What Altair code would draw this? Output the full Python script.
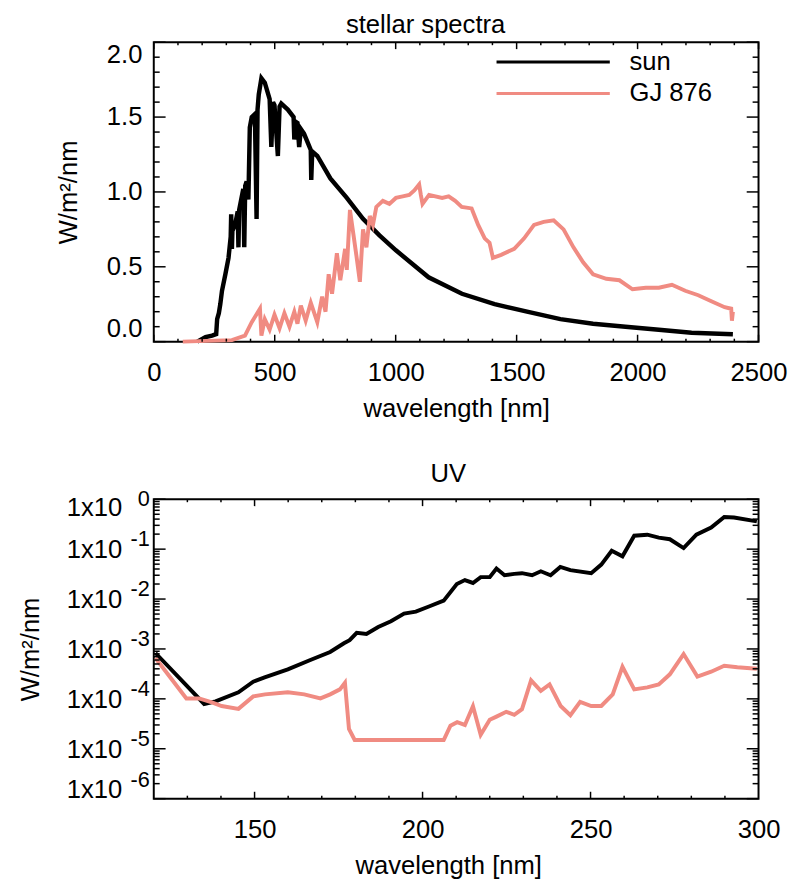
import altair as alt
import pandas as pd

FONT = "Liberation Sans"
BLACK = "#000000"
SALMON = "#F08B82"
W, H = 614, 304

# ---------------- top panel data (wavelength nm, W/m^2/nm) ----------------
sun_wl = [180, 214, 241, 258, 262, 269, 275, 282, 296, 309, 318, 320, 323, 325, 336,
          347, 350, 353, 370, 374, 378, 384, 391, 393, 397, 405, 418, 425, 429, 434,
          445, 459, 479, 486, 493, 499, 513, 520, 527, 554, 578, 581, 585, 594, 601,
          608, 621, 649, 651, 655, 676, 730, 798, 865, 933, 1001, 1136, 1274, 1409,
          1543, 1681, 1816, 1950, 2088, 2223, 2394]
sun_flux = [0.00, 0.03, 0.04, 0.05, 0.15, 0.19, 0.25, 0.34, 0.45, 0.56, 0.70, 0.85, 0.62,
            0.74, 0.78, 0.87, 0.63, 0.88, 1.02, 0.63, 1.04, 1.07, 0.95, 1.10, 1.43, 1.50,
            1.52, 0.82, 1.55, 1.65, 1.76, 1.73, 1.62, 1.30, 1.60, 1.58, 1.24, 1.57, 1.59,
            1.55, 1.50, 1.35, 1.47, 1.46, 1.30, 1.42, 1.39, 1.28, 1.08, 1.27, 1.24, 1.09,
            0.96, 0.82, 0.71, 0.61, 0.43, 0.32, 0.25, 0.20, 0.15, 0.12, 0.10, 0.08, 0.06,
            0.05]

gj_wl = [120, 323, 377, 405, 439, 445, 459, 479, 499, 520, 540, 561, 581, 594, 608, 628,
         649, 676, 696, 710, 723, 737, 757, 771, 791, 798, 811, 825, 838, 852, 865, 879,
         893, 906, 920, 947, 974, 1001, 1029, 1056, 1077, 1097, 1104, 1111, 1138, 1192,
         1219, 1246, 1273, 1314, 1341, 1368, 1388, 1402, 1436, 1490, 1531, 1572, 1612,
         1653, 1694, 1735, 1775, 1816, 1871, 1925, 1979, 2034, 2088, 2142, 2197, 2251,
         2305, 2360, 2387, 2390, 2394]
gj_flux = [0.00, 0.01, 0.04, 0.13, 0.22, 0.04, 0.15, 0.08, 0.18, 0.09, 0.19, 0.10, 0.20,
           0.12, 0.24, 0.14, 0.26, 0.13, 0.30, 0.20, 0.45, 0.32, 0.59, 0.41, 0.62, 0.48,
           0.88, 0.72, 0.57, 0.40, 0.75, 0.63, 0.84, 0.78, 0.90, 0.94, 0.92, 0.96, 0.97,
           0.98, 1.01, 1.05, 0.98, 0.92, 0.98, 0.96, 0.97, 0.94, 0.90, 0.89, 0.78, 0.69,
           0.66, 0.56, 0.58, 0.62, 0.69, 0.78, 0.80, 0.81, 0.75, 0.63, 0.53, 0.45, 0.42,
           0.41, 0.35, 0.36, 0.36, 0.38, 0.34, 0.31, 0.27, 0.23, 0.22, 0.14, 0.20]

# ---------------- bottom panel data (UV) ----------------
uv_sun_wl = [120.5, 135.0, 138.4, 145.2, 149.6, 153.0, 159.9, 166.6, 172.5, 176.6, 178.3,
             180.4, 183.3, 186.8, 190.6, 194.5, 198.0, 201.9, 206.3, 210.2, 212.6, 215.0,
             217.3, 220.0, 222.0, 224.4, 227.3, 229.6, 232.6, 235.2, 238.1, 241.0, 244.0,
             250.2, 253.2, 256.3, 259.5, 263.0, 266.9, 270.3, 273.6, 277.7, 281.5, 285.9,
             289.8, 292.7, 299.5]
uv_sun_flux = [8.3e-4, 7.9e-5, 8.9e-5, 1.35e-4, 2.2e-4, 2.7e-4, 3.9e-4, 6.0e-4, 8.7e-4,
               1.3e-3, 1.5e-3, 2.1e-3, 2.0e-3, 2.75e-3, 3.6e-3, 5.1e-3, 5.6e-3, 7.1e-3,
               9.3e-3, 2.0e-2, 2.4e-2, 2.1e-2, 2.75e-2, 2.75e-2, 4.1e-2, 3.0e-2, 3.2e-2,
               3.3e-2, 3.0e-2, 3.6e-2, 3.0e-2, 4.4e-2, 3.8e-2, 3.3e-2, 4.9e-2, 9.3e-2,
               7.2e-2, 0.186, 0.195, 0.17, 0.158, 0.105, 0.195, 0.27, 0.44, 0.43, 0.36]

uv_gj_wl = [120.5, 129.7, 133.5, 137.3, 140.2, 145.2, 149.6, 153.1, 159.9, 164.8, 169.6,
            172.5, 175.4, 176.9, 178.1, 179.8, 206.3, 208.3, 210.3, 212.6, 215.0, 217.3,
            220.0, 222.0, 224.9, 227.3, 229.6, 232.3, 235.2, 237.8, 241.1, 244.0, 246.9,
            250.2, 253.2, 256.6, 259.5, 263.0, 266.9, 270.3, 273.6, 277.7, 281.8, 285.9,
            289.8, 293.7, 299.5]
uv_gj_flux = [6.6e-4, 1.02e-4, 1.02e-4, 8.5e-5, 7.2e-5, 6.3e-5, 1.12e-4, 1.23e-4, 1.35e-4,
              1.23e-4, 1.02e-4, 1.23e-4, 1.55e-4, 2.1e-4, 2.5e-5, 1.5e-5, 1.5e-5, 2.9e-5,
              3.4e-5, 3.0e-5, 7.1e-5, 1.9e-5, 3.8e-5, 4.4e-5, 5.5e-5, 4.8e-5, 6.2e-5,
              2.35e-4, 1.45e-4, 1.95e-4, 7.2e-5, 4.7e-5, 8.7e-5, 7.2e-5, 7.2e-5, 1.23e-4,
              4.4e-4, 1.55e-4, 1.7e-4, 1.95e-4, 3.1e-4, 7.9e-4, 2.8e-4, 3.5e-4, 4.6e-4,
              4.3e-4, 4.0e-4]

series_names = ["sun", "GJ 876"]
panel_titles = ["stellar spectra", "UV"]

# tick positions / labels
top_x_labels = [0, 500, 1000, 1500, 2000, 2500]
top_x_minor = [v for v in range(0, 2501, 100) if v % 500]
top_y_labels = [0.0, 0.5, 1.0, 1.5, 2.0]
top_y_minor = [round(i * 0.1, 1) for i in range(21) if i % 5]
bot_x_labels = [150, 200, 250, 300]
bot_x_major = [150, 200, 250]
bot_x_minor = [v for v in range(130, 300, 10) if v % 50]
bot_exps = [0, -1, -2, -3, -4, -5, -6]
bot_y_major = [10.0 ** e for e in bot_exps]
bot_y_minor = [m * 10.0 ** e for e in range(-6, 0) for m in range(2, 10)]

xs_top = alt.Scale(domain=[0, 2500], nice=False, zero=False)
ys_top = alt.Scale(domain=[0, 2.0], nice=False, zero=False)
xs_bot = alt.Scale(type="linear", domain=[120, 300], nice=False, zero=False)
ys_bot = alt.Scale(type="log", domain=[1e-6, 1], nice=False)

common_x_axis = dict(format="d", ticks=False, domain=False, grid=False, labelPadding=18,
                     labelFlush=False, labelOverlap=False, title="wavelength [nm]",
                     titleY=76, titleBaseline="alphabetic")

top_x_axis = alt.Axis(values=top_x_labels, **common_x_axis)
top_y_axis = alt.Axis(values=top_y_labels, format=".1f", ticks=False, domain=False,
                      grid=False, labelPadding=12, labelFlush=True, labelOverlap=False,
                      title="W/m²/nm", titleX=-86, titleY=H / 2, titleAngle=270,
                      titleBaseline="middle", titleAlign="center")
bot_x_axis = alt.Axis(values=bot_x_labels, titleX=299, **common_x_axis)
bot_y_axis = alt.Axis(values=bot_y_major, labels=False, ticks=False, domain=False,
                      grid=False, title="W/m²/nm", titleX=-125, titleY=H / 2,
                      titleAngle=270, titleBaseline="middle", titleAlign="center")

one = pd.DataFrame({"k": [0]})


def tick_layers(xvals_major, xvals_minor, yvals_major, yvals_minor, xs, ys, xax, yax,
                xlen=(7, 3), ylen=(12, 6)):
    layers = []
    for vals, L in ((xvals_major, xlen[0]), (xvals_minor, xlen[1])):
        df = pd.DataFrame({"wl": vals})
        for y0, y1 in ((H, H - L), (0, L)):
            layers.append(
                alt.Chart(df).mark_rule(color="black", strokeWidth=1.5).encode(
                    x=alt.X("wl:Q", scale=xs, axis=xax),
                    y=alt.value(y0), y2=alt.value(y1)))
    for vals, L in ((yvals_major, ylen[0]), (yvals_minor, ylen[1])):
        df = pd.DataFrame({"flux": vals})
        for x0, x1 in ((0, L), (W, W - L)):
            layers.append(
                alt.Chart(df).mark_rule(color="black", strokeWidth=1.5).encode(
                    y=alt.Y("flux:Q", scale=ys, axis=yax),
                    x=alt.value(x0), x2=alt.value(x1)))
    return layers


def title_layer(text, xpos, ypos):
    return alt.Chart(one).mark_text(
        text=text, align="center", baseline="alphabetic", font=FONT, fontSize=26,
        color="black").encode(x=alt.value(xpos), y=alt.value(ypos))


# ---------------- top panel ----------------
sun_df = pd.DataFrame({"wl": sun_wl, "flux": sun_flux})
gj_df = pd.DataFrame({"wl": gj_wl, "flux": gj_flux})

sun_line = alt.Chart(sun_df).mark_line(color=BLACK, strokeWidth=4.5).encode(
    x=alt.X("wl:Q", scale=xs_top, axis=top_x_axis),
    y=alt.Y("flux:Q", scale=ys_top, axis=top_y_axis))
gj_line = alt.Chart(gj_df).mark_line(color=SALMON, strokeWidth=4).encode(
    x=alt.X("wl:Q", scale=xs_top, axis=top_x_axis),
    y=alt.Y("flux:Q", scale=ys_top, axis=top_y_axis))

legend_layers = []
for name, col, yy in ((series_names[0], BLACK, 20), (series_names[1], SALMON, 52)):
    legend_layers.append(alt.Chart(one).mark_rule(color=col, strokeWidth=3).encode(
        x=alt.value(348), x2=alt.value(463), y=alt.value(yy)))
    legend_layers.append(alt.Chart(one).mark_text(
        text=name, align="left", baseline="middle", font=FONT, fontSize=26,
        color="black").encode(x=alt.value(483), y=alt.value(yy)))

top = alt.layer(
    sun_line, gj_line,
    *tick_layers(top_x_labels, top_x_minor, top_y_labels, top_y_minor, xs_top, ys_top,
                 top_x_axis, top_y_axis),
    *legend_layers,
    title_layer(panel_titles[0], W / 2 - 31, -9)
).properties(width=W, height=H)

# ---------------- bottom panel ----------------
uv_sun_df = pd.DataFrame({"wl": uv_sun_wl, "flux": uv_sun_flux})
uv_gj_df = pd.DataFrame({"wl": uv_gj_wl, "flux": uv_gj_flux})

uv_sun_line = alt.Chart(uv_sun_df).mark_line(color=BLACK, strokeWidth=4).encode(
    x=alt.X("wl:Q", scale=xs_bot, axis=bot_x_axis),
    y=alt.Y("flux:Q", scale=ys_bot, axis=bot_y_axis))
uv_gj_line = alt.Chart(uv_gj_df).mark_line(color=SALMON, strokeWidth=4).encode(
    x=alt.X("wl:Q", scale=xs_bot, axis=bot_x_axis),
    y=alt.Y("flux:Q", scale=ys_bot, axis=bot_y_axis))

lab_df = pd.DataFrame({"e": bot_exps, "flux": bot_y_major,
                       "base": ["1x10"] * len(bot_exps),
                       "sup": [str(e) for e in bot_exps]})
label_layers = []
for cond, base_dy, sup_dy in (("datum.e == 0", 9, 0),
                              ("datum.e < 0 && datum.e > -6", 1, -10),
                              ("datum.e == -6", -9, -19)):
    label_layers.append(alt.Chart(lab_df).transform_filter(cond).mark_text(
        align="right", baseline="middle", font=FONT, fontSize=26, dy=base_dy,
        color="black").encode(
        x=alt.value(-32), y=alt.Y("flux:Q", scale=ys_bot, axis=bot_y_axis),
        text="base:N"))
    label_layers.append(alt.Chart(lab_df).transform_filter(cond).mark_text(
        align="right", baseline="middle", font=FONT, fontSize=22, dy=sup_dy,
        color="black").encode(
        x=alt.value(-4), y=alt.Y("flux:Q", scale=ys_bot, axis=bot_y_axis),
        text="sup:N"))

bottom = alt.layer(
    uv_sun_line, uv_gj_line,
    *tick_layers(bot_x_major, bot_x_minor, bot_y_major, bot_y_minor, xs_bot, ys_bot,
                 bot_x_axis, bot_y_axis),
    *label_layers,
    title_layer(panel_titles[1], W / 2 - 8, -17)
).properties(width=W, height=H)

chart = alt.vconcat(top, bottom, spacing=160, bounds="flush").properties(
    padding={"left": 9, "top": -3, "right": 5, "bottom": 5}
).configure_view(stroke="black", strokeWidth=2).configure_axis(
    labelFont=FONT, titleFont=FONT, labelFontSize=26, titleFontSize=26,
    labelColor="black", titleColor="black", titleFontWeight="normal")

chart.save("out.html", embed_options={"renderer": "svg", "actions": False})
